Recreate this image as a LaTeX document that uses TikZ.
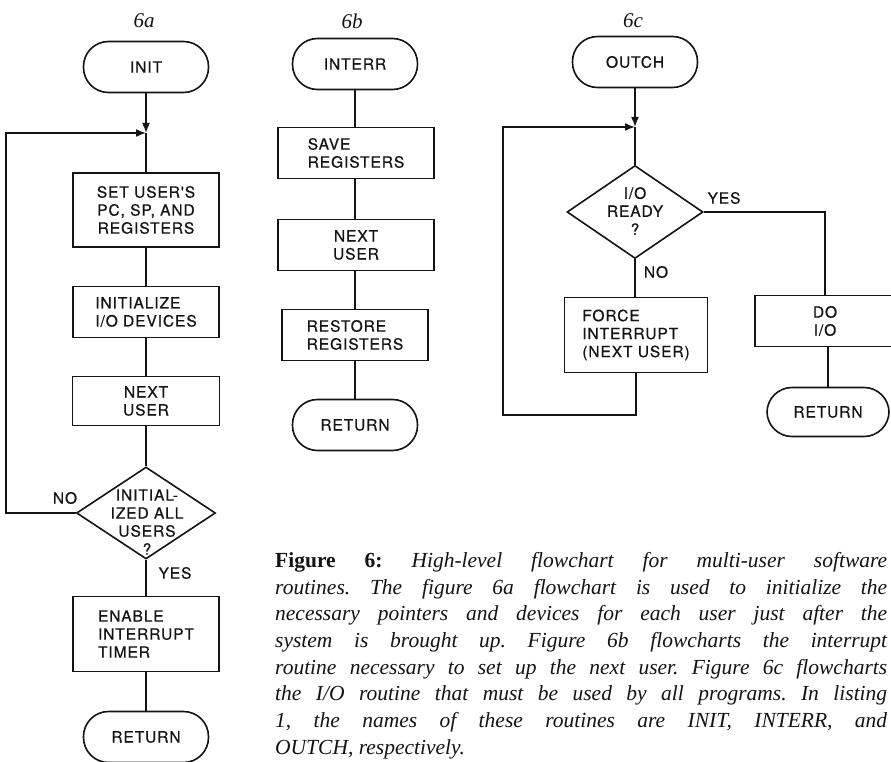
\documentclass[tikz,border=0pt]{standalone}
\usepackage{fontspec}
\setmainfont{Liberation Serif}
\newfontfamily\chartfont[LetterSpace=6,FakeBold=0.6]{TeX Gyre Heros}
\usepackage{xcolor}
\usepackage{tikz}
\usetikzlibrary{positioning,calc,shapes.geometric,arrows.meta}
\definecolor{InkBlack}{HTML}{141414}
\definecolor{PaperWhite}{HTML}{FFFFFF}

\begin{document}
\begin{tikzpicture}[x=1pt, y=-1pt,
  chart/.style={font=\chartfont\fontsize{15.5}{18}\selectfont, text=InkBlack},
  term/.style={chart, draw=InkBlack, line width=1.6pt, rounded corners=25pt, minimum width=125pt, minimum height=51pt, inner sep=0pt},
  proc/.style={chart, draw=InkBlack, line width=1.6pt, minimum height=51pt, inner sep=0pt, align=center},
  procl/.style={proc, align=left},
  dec/.style={draw=InkBlack, line width=1.6pt, diamond, inner sep=0pt},
  link/.style={draw=InkBlack, line width=1.6pt},
  arr/.style={link, -{Latex[length=10pt,width=8pt]}},
  tag/.style={font=\itshape\fontsize{21}{21}\selectfont, text=InkBlack}]
  % Page
  \useasboundingbox (0,0) rectangle (891,762);
  \fill[PaperWhite] (0,0) rectangle (891,762);

  % Figure 6a: INIT
  \node[tag] (tagA) at (144,21) {6a};
  \node[term] (initA) at (146,67) {INIT};
  \coordinate (jA) at (146,133);
  \node[proc, minimum width=146pt, minimum height=74pt] (setA) at (146,210) {SET USER'S\\PC, SP, AND\\REGISTERS};
  \node[procl, minimum width=146pt] (ioA) at (146,312) {INITIALIZE\\I/O DEVICES};
  \node[proc, minimum width=147pt, minimum height=49pt] (nextA) at (146,401) {NEXT\\USER};
  \node[dec, minimum width=139pt, minimum height=92pt] (decA) at (146,513) {};
  \node[chart, align=center, inner sep=0pt] (decAtxt) at (147,522) {INITIAL-\\IZED ALL\\USERS\\?};
  \node[procl, minimum width=146pt, minimum height=75pt] (timerA) at (146,634) {ENABLE\\INTERRUPT\\TIMER};
  \node[term] (retA) at (146,737) {RETURN};
  \node[chart] (noA) at (65,498) {NO};
  \node[chart] (yesA) at (175,573) {YES};

  \draw[arr] (initA) -- (jA);
  \draw[link] (jA) -- (setA);
  \draw[link] (setA) -- (ioA);
  \draw[link] (ioA) -- (nextA);
  \draw[link] (nextA) -- (decA);
  \draw[link] (decA) -- (timerA);
  \draw[link] (timerA) -- (retA);
  \draw[arr] (decA.west) -- ++(-70,0) |- (jA);

  % Figure 6b: INTERR
  \node[tag] (tagB) at (352,21) {6b};
  \node[term] (intB) at (355,64) {INTERR};
  \node[procl, minimum width=156pt] (saveB) at (356,153) {SAVE\\REGISTERS};
  \node[proc, minimum width=156pt] (nextB) at (356,245) {NEXT\\USER};
  \node[procl, minimum width=146pt] (restB) at (355,335) {RESTORE\\REGISTERS};
  \node[term] (retB) at (355,425) {RETURN};

  \draw[link] (intB) -- (intB |- saveB.north);
  \draw[link] (saveB.south -| intB) -- (intB |- nextB.north);
  \draw[link] (nextB.south -| intB) -- (restB);
  \draw[link] (restB) -- (retB);

  % Figure 6c: OUTCH
  \node[tag] (tagC) at (633,21) {6c};
  \node[term] (outC) at (635,62) {OUTCH};
  \coordinate (jC) at (635,127);
  \node[dec, minimum width=136pt, minimum height=93pt] (decC) at (635,212) {};
  \node[chart, align=center, inner sep=0pt] (decCtxt) at (635,211) {I/O\\READY\\?};
  \node[procl, minimum width=143pt, minimum height=75pt] (forceC) at (636,335) {FORCE\\INTERRUPT\\(NEXT USER)};
  \node[proc, minimum width=140pt] (doC) at (825,321) {DO\\I/O};
  \node[term, minimum width=122pt, minimum height=49pt] (retC) at (828,412) {RETURN};
  \node[chart] (yesC) at (724,198) {YES};
  \node[chart] (noC) at (656,272) {NO};
  \coordinate (cornerC) at (503,415);

  \draw[arr] (outC) -- (jC);
  \draw[link] (jC) -- (decC);
  \draw[link] (decC) -- (decC |- forceC.north);
  \draw[link] (decC.east) -| (doC.north);
  \draw[link] (doC.south -| retC) -- (retC);
  \draw[arr] (forceC.south) |- (cornerC) |- (jC);

  % Caption
  \node[anchor=north west, inner sep=0pt, text width=612pt, align=justify, text=InkBlack,
        font=\fontsize{21.5}{26.7}\selectfont] (caption) at (275,552)
  {\frenchspacing\hyphenpenalty=10000\tolerance=9999\emergencystretch=20pt
   \textbf{Figure 6:} \textit{High-level flowchart for multi-user software\linebreak
   routines. The figure 6a flowchart is used to initialize the\linebreak
   necessary pointers and devices for each user just after the\linebreak
   system is brought up. Figure 6b flowcharts the interrupt\linebreak
   routine necessary to set up the next user. Figure 6c flowcharts\linebreak
   the I/O routine that must be used by all programs. In listing\linebreak
   1, the names of these routines are INIT, INTERR, and\linebreak
   OUTCH, respectively.}};
\end{tikzpicture}
\end{document}
